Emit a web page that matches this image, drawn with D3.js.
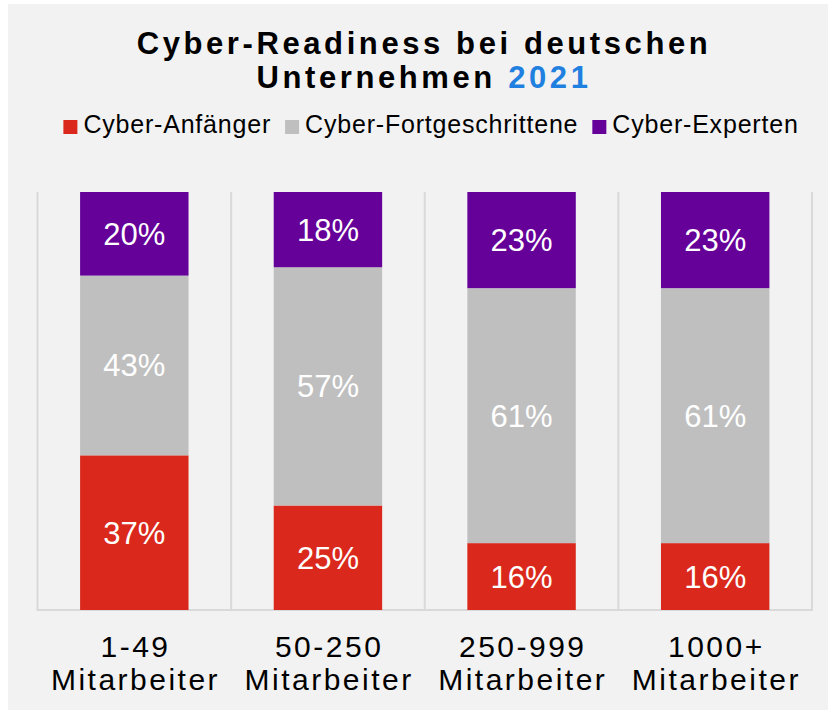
<!DOCTYPE html>
<html>
<head>
<meta charset="utf-8">
<script src="https://cdn.jsdelivr.net/npm/d3@7"></script>
<style>
  body { margin: 0; background: #ffffff; }
  svg { display: block; font-family: "Liberation Sans", Arial, sans-serif; }
</style>
</head>
<body>
<svg id="chart" width="828" height="710"></svg>
<script>

var categories = ["1-49 Mitarbeiter", "50-250 Mitarbeiter", "250-999 Mitarbeiter", "1000+ Mitarbeiter"];
var catLine1 = ["1-49", "50-250", "250-999", "1000+"];
var catLine2 = ["Mitarbeiter", "Mitarbeiter", "Mitarbeiter", "Mitarbeiter"];

var seriesNames = ["Cyber-Anfänger", "Cyber-Fortgeschrittene", "Cyber-Experten"];
var seriesColors = ["#da291c", "#bfbfbf", "#650099"];

var anfaenger = [37, 25, 16, 16];
var fortgeschrittene = [43, 57, 61, 61];
var experten = [20, 18, 23, 23];

var svg = d3.select("#chart");

// background panel
svg.append("rect")
    .attr("x", 8).attr("y", 4)
    .attr("width", 820).attr("height", 706)
    .attr("fill", "#f2f2f2");

// title
var title = svg.append("text")
    .attr("text-anchor", "middle")
    .attr("font-weight", "bold")
    .attr("font-size", "31px")
    .attr("letter-spacing", "3.6px")
    .attr("fill", "#000");
title.append("tspan")
    .attr("x", 424).attr("y", 53.5)
    .text("Cyber-Readiness bei deutschen");
var t2 = title.append("tspan")
    .attr("x", 424).attr("y", 88);
t2.append("tspan").text("Unternehmen ");
t2.append("tspan").attr("fill", "#1f80e0").text("2021");

// legend
var legend = svg.append("g");
var lx = 0;
seriesNames.forEach(function(name, i){
    var item = legend.append("g").attr("transform", "translate(" + lx + ",0)");
    item.append("rect")
        .attr("x", 0).attr("y", 120)
        .attr("width", 14).attr("height", 14)
        .attr("fill", seriesColors[i]);
    var txt = item.append("text")
        .attr("x", 20).attr("y", 133.3)
        .attr("font-size", "25px")
        .attr("letter-spacing", "0.8px")
        .attr("fill", "#000")
        .text(name);
    lx = lx + 20 + txt.node().getComputedTextLength() + 14;
});
var legendW = lx - 14;
legend.attr("transform", "translate(" + (431 - legendW / 2) + ",0)");

// stacked data
var table = categories.map(function(c, i){
    return { cat: c, s0: anfaenger[i], s1: fortgeschrittene[i], s2: experten[i] };
});
var stack = d3.stack().keys(["s0", "s1", "s2"]);
var layers = stack(table);

var x = d3.scaleBand()
    .domain(categories)
    .range([37.5, 812])
    .paddingInner(0.44)
    .paddingOuter(0.22);

var y = d3.scaleLinear()
    .domain([0, 100])
    .range([610, 192]);

// category dividers and baseline
var grid = svg.append("g").attr("stroke", "#d9d9d9").attr("stroke-width", 2);
d3.range(categories.length + 1).forEach(function(i){
    var gx = x.range()[0] + i * x.step();
    grid.append("line")
        .attr("x1", gx).attr("x2", gx)
        .attr("y1", y(100)).attr("y2", y(0));
});
grid.append("line")
    .attr("x1", x.range()[0] - 1).attr("x2", x.range()[1] + 1)
    .attr("y1", y(0)).attr("y2", y(0));

// bars
var g = svg.append("g");
layers.forEach(function(layer, li){
    g.selectAll("rect.l" + li)
        .data(layer)
        .enter()
        .append("rect")
        .attr("class", "l" + li)
        .attr("x", function(d){ return x(d.data.cat); })
        .attr("y", function(d){ return y(d[1]); })
        .attr("width", x.bandwidth())
        .attr("height", function(d){ return y(d[0]) - y(d[1]); })
        .attr("fill", seriesColors[li]);

    g.selectAll("text.l" + li)
        .data(layer)
        .enter()
        .append("text")
        .attr("class", "l" + li)
        .attr("x", function(d){ return x(d.data.cat) + x.bandwidth() / 2; })
        .attr("y", function(d){ return (y(d[0]) + y(d[1])) / 2 + 11; })
        .attr("text-anchor", "middle")
        .attr("font-size", "31px")
        .attr("fill", "#ffffff")
        .text(function(d){ return (d[1] - d[0]) + "%"; });
});

// category labels
var xl = svg.append("g")
    .attr("font-size", "30px")
    .attr("letter-spacing", "2.5px")
    .attr("fill", "#000")
    .attr("text-anchor", "middle");
categories.forEach(function(c, i){
    var cx = x(c) + x.bandwidth() / 2 + 1.2;
    xl.append("text").attr("x", cx).attr("y", 657).text(catLine1[i]);
    xl.append("text").attr("x", cx).attr("y", 690).text(catLine2[i]);
});

</script>
</body>
</html>
